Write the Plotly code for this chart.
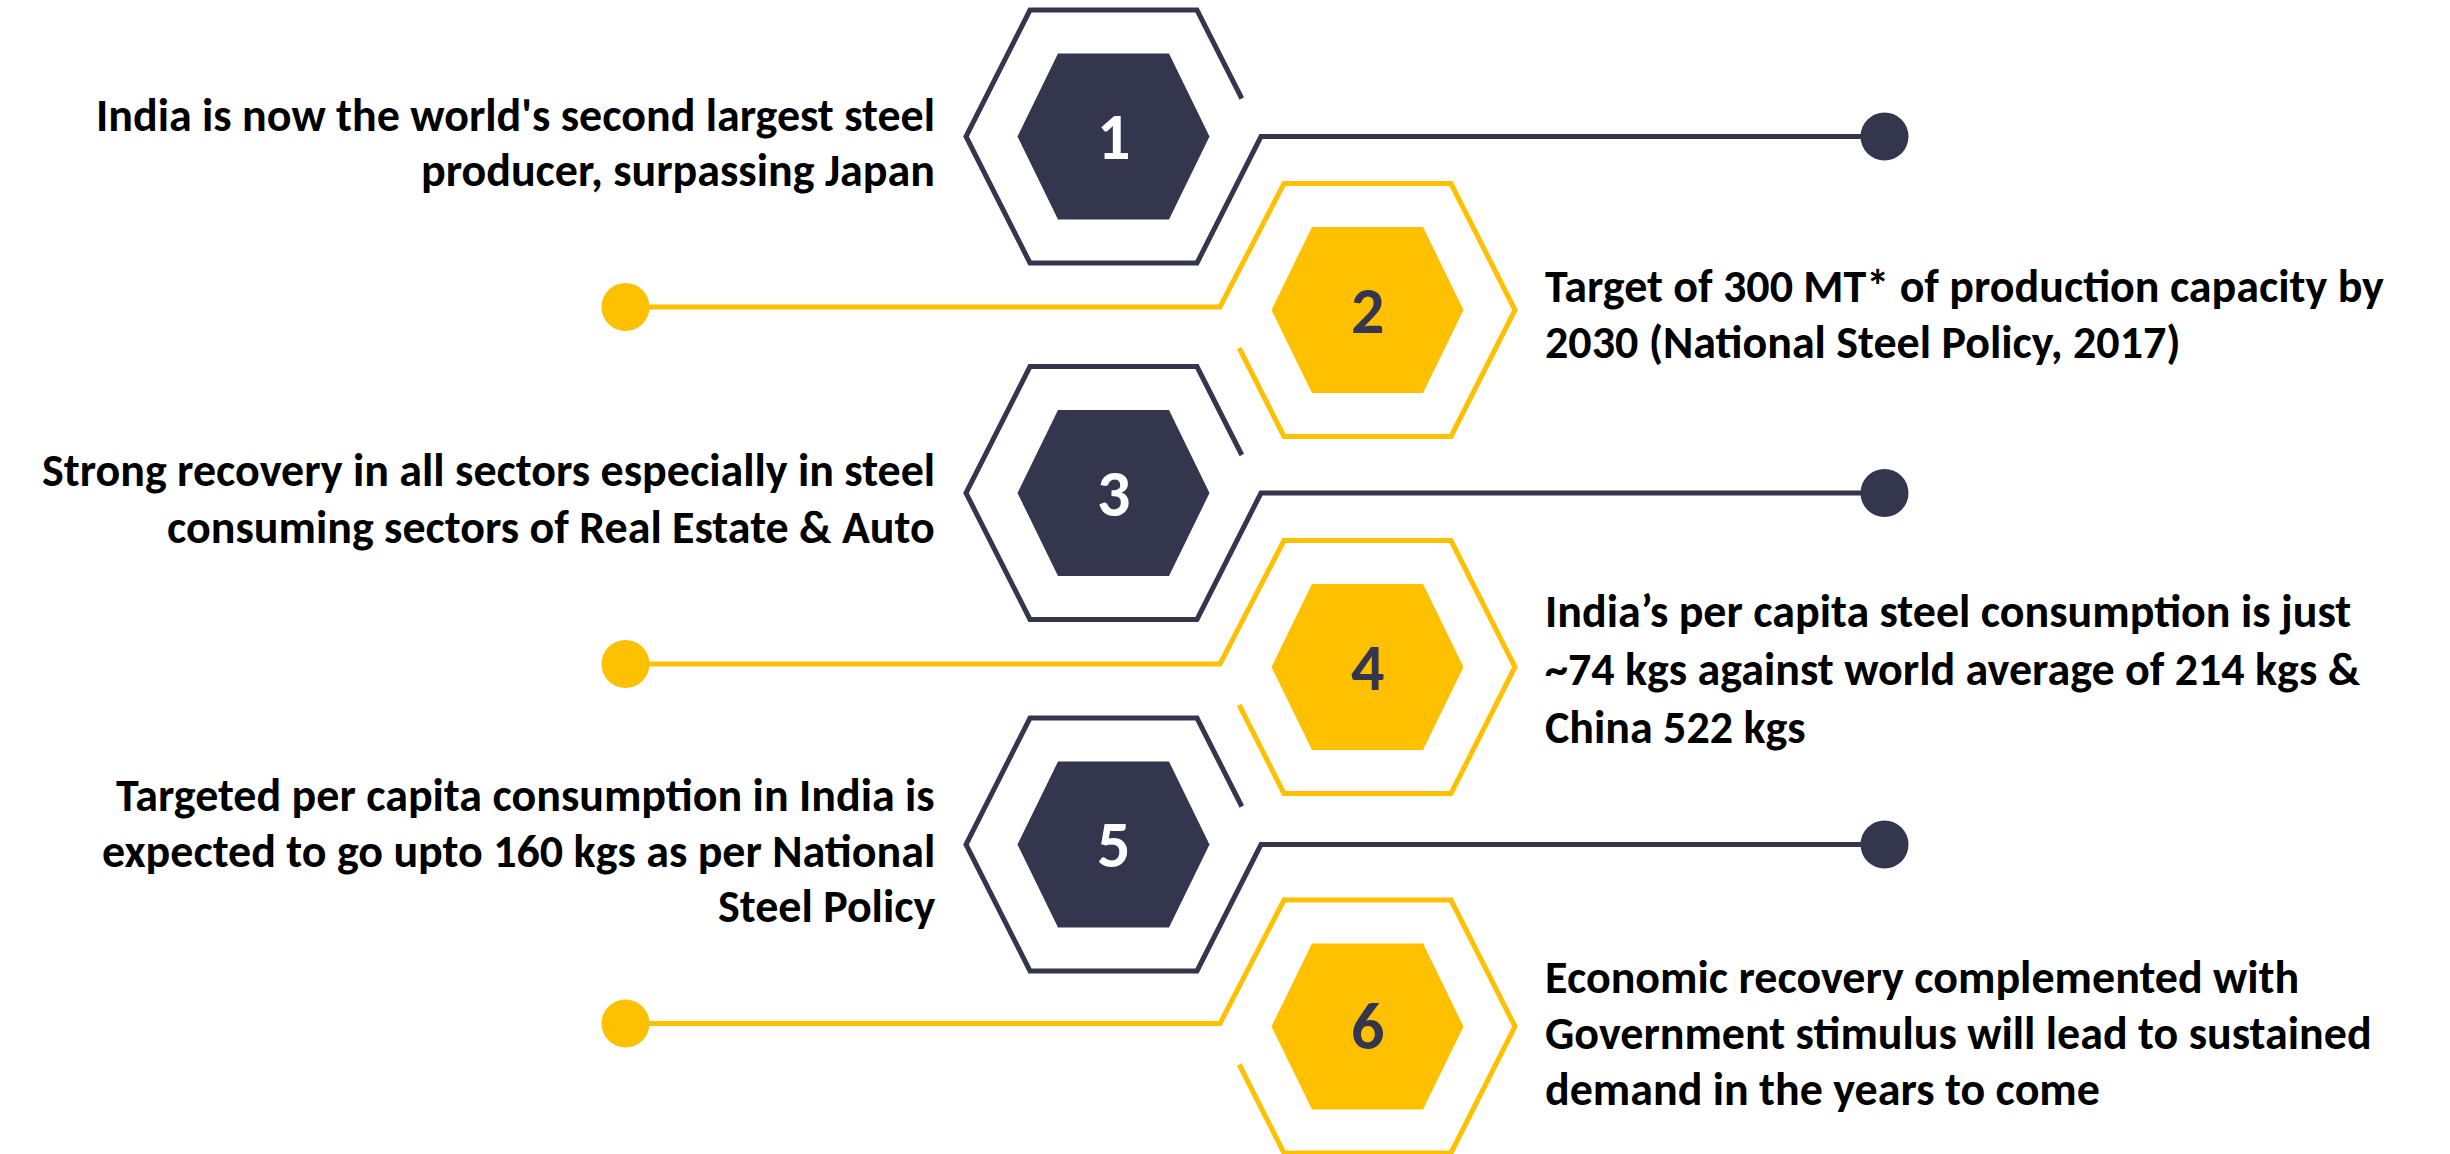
import plotly.graph_objects as go

# ---- data ----
item_numbers = ["1", "2", "3", "4", "5", "6"]
item_texts = [
    ["India is now the world's second largest steel", "producer, surpassing Japan"],
    ["Target of 300 MT* of production capacity by", "2030 (National Steel Policy, 2017)"],
    ["Strong recovery in all sectors especially in steel", "consuming sectors of Real Estate & Auto"],
    ["India\u2019s per capita steel consumption is just", "~74 kgs against world average of 214 kgs &", "China 522 kgs"],
    ["Targeted per capita consumption in India is", "expected to go upto 160 kgs as per National", "Steel Policy"],
    ["Economic recovery complemented with", "Government stimulus will lead to sustained", "demand in the years to come"],
]

# ---- layout constants ----
W, H = 2450, 1154
DARK = "#33364D"
GOLD = "#FFC000"
FONT = "Carlito, Lato, sans-serif"

hex_cy = [136.5, 310, 493, 667, 844.5, 1026.5]
dark_cx, gold_cx = 1113.5, 1367.5
dark_dot_x, gold_dot_x = 1884.5, 625.5
dot_r = 24
outer = dict(a=147.5, b=83.5, h=126.5)
inner = dict(a=96, b=55.5, h=83)
text_line_y = [[115, 170], [286, 342], [470, 527], [611, 669, 727], [795, 851, 906], [977, 1033, 1089]]
left_text_x, right_text_x = 936, 1544
text_size = 46
num_size = 66


def hex_pts(cx, cy, a, b, h):
    return [(cx - b, cy - h), (cx + b, cy - h), (cx + a, cy), (cx + b, cy + h), (cx - b, cy + h), (cx - a, cy)]


def path_of(pts, close=False):
    s = "M " + " L ".join(f"{x:.1f},{y:.1f}" for x, y in pts)
    return s + (" Z" if close else "")


fig = go.Figure()
shapes = []
annotations = []
for i, (num, lines) in enumerate(zip(item_numbers, item_texts)):
    cy = hex_cy[i]
    a, b, h = outer["a"], outer["b"], outer["h"]
    gap_dx = b + (a - b) * (h - 38) / h
    if i % 2 == 0:
        cx = dark_cx
        col = DARK
        pts = [(cx + gap_dx, cy - 38), (cx + b, cy - h), (cx - b, cy - h), (cx - a, cy),
               (cx - b, cy + h), (cx + b, cy + h), (cx + a, cy), (dark_dot_x, cy)]
        dot_x = dark_dot_x
        num_col = "white"
        dy = 0
    else:
        cx = gold_cx
        col = GOLD
        pts = [(cx - gap_dx, cy + 38), (cx - b, cy + h), (cx + b, cy + h), (cx + a, cy),
               (cx + b, cy - h), (cx - b, cy - h), (cx - a, cy - 3), (gold_dot_x, cy - 3)]
        dot_x = gold_dot_x
        num_col = DARK
        dy = -3
    shapes.append(dict(type="path", path=path_of(pts), xref="x", yref="y",
                       line=dict(color=col, width=5), fillcolor="rgba(0,0,0,0)", layer="above"))
    shapes.append(dict(type="path", path=path_of(hex_pts(cx, cy, **inner), close=True), xref="x", yref="y",
                       line=dict(width=0), fillcolor=col))
    shapes.append(dict(type="circle", xref="x", yref="y", x0=dot_x - dot_r, x1=dot_x + dot_r,
                       y0=cy + dy - dot_r, y1=cy + dy + dot_r, line=dict(width=0), fillcolor=col))
    annotations.append(dict(x=cx, y=cy, xref="x", yref="y", text=f"<b>{num}</b>", showarrow=False,
                            font=dict(family=FONT, size=num_size, color=num_col),
                            xanchor="center", yanchor="middle", borderpad=0))
    for ln, ly in zip(lines, text_line_y[i]):
        annotations.append(dict(x=left_text_x if i % 2 == 0 else right_text_x, y=ly,
                                xref="x", yref="y", text=f"<b>{ln}</b>", showarrow=False,
                                xanchor="right" if i % 2 == 0 else "left", yanchor="middle",
                                borderpad=0,
                                font=dict(family=FONT, size=text_size, color="black")))

fig.update_layout(
    width=W, height=H, margin=dict(l=0, r=0, t=0, b=0),
    paper_bgcolor="white", plot_bgcolor="white",
    xaxis=dict(range=[0, W], visible=False, fixedrange=True),
    yaxis=dict(range=[H, 0], visible=False, fixedrange=True),
    shapes=shapes, annotations=annotations, showlegend=False,
)
fig.write_html("out.html", config={"displayModeBar": False},
               post_script="document.body.style.margin='0';document.body.style.overflow='hidden';")
